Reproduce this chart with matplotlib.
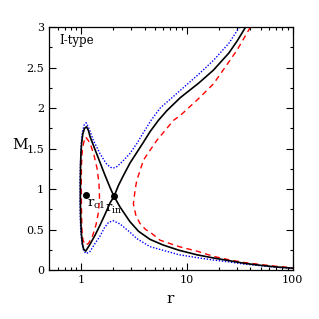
"""
Mach number M against radius r for an I-type flow: separatrix through r_in,
with neighbouring solutions just above and below it.
"""

import matplotlib.pyplot as plt
from matplotlib.ticker import FixedLocator, LogLocator, NullFormatter

# separatrix (black, solid): from top right, through r_in, round the loop, back through r_in
sep_r = [36, 30, 25, 17.9, 13, 8.7, 6.5, 5.4, 4.5, 3.9, 3.4, 2.9, 2.5, 2.25, 2.054,
         1.883, 1.689, 1.514, 1.357, 1.217, 1.108, 1.06, 1.03, 1.01, 0.995, 0.988, 0.988,
         0.992, 1.0, 1.015, 1.04, 1.08, 1.13, 1.18, 1.217, 1.357, 1.514, 1.689, 1.883, 2.054,
         2.34, 2.9, 3.5, 4.5, 6.0, 8.5, 12.5, 18, 25.8, 35, 50, 70, 100]
sep_M = [3.0, 2.83, 2.68, 2.47, 2.31, 2.13, 1.97, 1.85, 1.71, 1.58, 1.46, 1.32, 1.16, 1.04, 0.91,
         0.83, 0.69, 0.556, 0.43, 0.32, 0.235, 0.26, 0.33, 0.45, 0.62, 0.85, 1.1,
         1.3, 1.45, 1.57, 1.68, 1.75, 1.77, 1.72, 1.65, 1.49, 1.33, 1.17, 1.02, 0.91,
         0.78, 0.60, 0.48, 0.38, 0.31, 0.245, 0.19, 0.15, 0.115, 0.085, 0.06, 0.04, 0.025]

# solution just outside the separatrix (blue, dotted)
out_r = [31.5, 25, 17.9, 13, 8.7, 5.6, 4.6, 3.9, 3.4, 2.9, 2.5, 2.2, 2.02, 1.9, 1.75,
         1.63, 1.51, 1.41, 1.31, 1.2, 1.12, 1.07, 1.03, 1.005, 0.99, 0.98, 0.98, 0.985,
         0.995, 1.02, 1.06, 1.12, 1.217, 1.357, 1.514, 1.66, 1.82, 2.02, 2.34, 2.9, 3.37,
         4.5, 6.0, 8.5, 12.5, 18, 25.8, 35, 50, 70, 100]
out_M = [3.0, 2.80, 2.59, 2.42, 2.22, 2.0, 1.85, 1.70, 1.57, 1.44, 1.35, 1.28, 1.26, 1.27, 1.31,
         1.37, 1.44, 1.52, 1.60, 1.74, 1.82, 1.79, 1.70, 1.55, 1.35, 1.1, 0.85, 0.65,
         0.48, 0.34, 0.24, 0.205, 0.23, 0.33, 0.42, 0.52, 0.59, 0.61, 0.57, 0.47, 0.39,
         0.29, 0.245, 0.19, 0.155, 0.125, 0.10, 0.075, 0.055, 0.037, 0.022]

# solutions just inside (red, dashed): closed loop round r_c1 ...
loop_r = [1.115, 1.217, 1.328, 1.418, 1.481, 1.497, 1.465, 1.387, 1.285, 1.178, 1.103,
          1.045, 1.022, 1.011, 1.007, 1.011, 1.029, 1.068, 1.115]
loop_M = [1.64, 1.57, 1.42, 1.26, 1.07, 0.89, 0.72, 0.56, 0.42, 0.33, 0.31,
          0.37, 0.49, 0.74, 1.05, 1.30, 1.48, 1.59, 1.64]
# ... and the branch right of r_in
right_r = [40, 30, 25, 17.9, 13, 8.7, 7.5, 5.2, 4.5, 3.9, 3.6, 3.37, 3.25, 3.13, 3.3,
           3.6, 4.1, 4.5, 5.6, 8.5, 12.5, 18, 25.8, 35, 50, 70, 100]
right_M = [3.0, 2.72, 2.57, 2.30, 2.12, 1.91, 1.85, 1.60, 1.48, 1.36, 1.22, 1.11, 0.99, 0.82, 0.68,
           0.58, 0.50, 0.47, 0.37, 0.29, 0.235, 0.17, 0.125, 0.095, 0.07, 0.048, 0.03]

# critical points
crit_r = [1.12, 2.054]
crit_M = [0.93, 0.91]

plt.rcParams["font.family"] = ["DejaVu Serif"]
plt.rcParams["mathtext.fontset"] = "dejavuserif"

fig = plt.figure(figsize=(3.19, 3.19), dpi=100)
ax = fig.add_axes([0.154, 0.153, 0.763, 0.762])

ax.plot(out_r, out_M, color="blue", ls=(0, (1, 1.2)), lw=1.0)
ax.plot(loop_r, loop_M, color="red", ls=(0, (4, 3)), lw=1.0)
ax.plot(right_r, right_M, color="red", ls=(0, (4, 3)), lw=1.0)
ax.plot(sep_r, sep_M, color="black", lw=1.2)
ax.plot(crit_r, crit_M, "o", color="black", ms=4)

ax.text(1.14, 0.89, r"r$_{\rm c1}$", fontsize=9.5, ha="left", va="top")
ax.text(1.70, 0.83, r"r$_{\rm in}$", fontsize=9.5, ha="left", va="top")
ax.text(0.63, 2.83, "I-type", fontsize=8.5, ha="left", va="center")

ax.set_xscale("log")
ax.set_xlim(0.5, 100)
ax.set_ylim(0, 3)
ax.xaxis.set_major_locator(FixedLocator([1, 10, 100]))
ax.set_xticklabels(["1", "10", "100"])
ax.xaxis.set_minor_locator(LogLocator(base=10, subs=range(2, 10)))
ax.xaxis.set_minor_formatter(NullFormatter())
ax.set_yticks([0, 0.5, 1, 1.5, 2, 2.5, 3])
ax.set_yticklabels(["0", "0.5", "1", "1.5", "2", "2.5", "3"])
ax.yaxis.set_minor_locator(FixedLocator([0.25, 0.75, 1.25, 1.75, 2.25, 2.75]))

ax.tick_params(which="both", direction="in", top=True, right=True, labelsize=8, width=0.8)
ax.tick_params(which="major", length=5)
ax.tick_params(which="minor", length=2.5)
for s in ax.spines.values():
    s.set_linewidth(0.9)

ax.set_xlabel("r", fontsize=11)
ax.set_ylabel("M", fontsize=11, rotation=0, va="center", ha="center")
ax.xaxis.set_label_coords(0.497, -0.09)
ax.yaxis.set_label_coords(-0.12, 0.514)

fig.savefig("out.png", dpi=100)
